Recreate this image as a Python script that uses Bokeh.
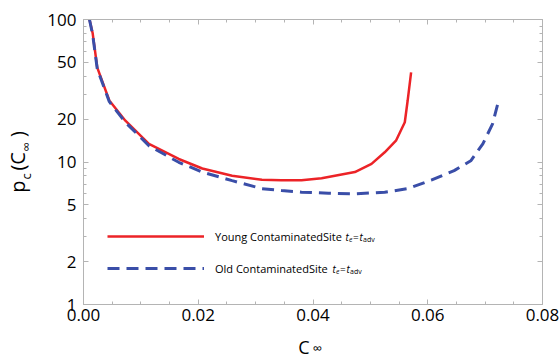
import math
from bokeh.plotting import figure
from bokeh.models import (FixedTicker, PrintfTickFormatter, LinearAxis, LogAxis,
                          Legend, LegendItem, Label, Range1d)
from bokeh.embed import file_html
from bokeh.resources import INLINE

# ---------------- data ----------------
young_x = [0.00104, 0.0016, 0.0024, 0.0045, 0.0073, 0.0114, 0.0166, 0.0207, 0.0259,
           0.0311, 0.0345, 0.038, 0.0415, 0.0473, 0.0502, 0.0525, 0.0545, 0.0560,
           0.0565, 0.0571]
young_y = [100, 80, 46, 27, 19.5, 13.4, 10.5, 9.0, 8.0, 7.5, 7.45, 7.45, 7.7, 8.5,
           9.7, 11.7, 14.2, 19.0, 27.0, 42.6]

old_x = [0.00104, 0.0016, 0.0024, 0.0045, 0.0073, 0.0114, 0.0166, 0.0207, 0.0259,
         0.0311, 0.0345, 0.038, 0.0427, 0.0473, 0.0525, 0.0565, 0.0606, 0.0646,
         0.0675, 0.0696, 0.0713, 0.0722]
old_y = [100, 78, 45, 26.5, 19.0, 13.0, 9.95, 8.5, 7.4, 6.5, 6.3, 6.14, 6.04, 5.98,
         6.14, 6.5, 7.45, 8.7, 10.2, 13.4, 18.5, 25.6]

x_ticks = [0.0, 0.02, 0.04, 0.06, 0.08]
x_minor = [0.005, 0.01, 0.015, 0.025, 0.03, 0.035, 0.045, 0.05, 0.055,
           0.065, 0.07, 0.075]
y_ticks = [1, 2, 5, 10, 20, 50, 100]
y_minor = [3, 4, 6, 7, 8, 9, 30, 40, 60, 70, 80, 90]

young_label = "Young ContaminatedSite"
old_label = "Old ContaminatedSite"

# axis titles: main glyphs and subscripts (unicode spaces keep them apart)
y_title_main = "p\u2002(C\u2002\u2005)"      # p ( C )
y_title_sub = "\u2009c\u2003\u2002\u2006\u221e"   # c  and  infinity
x_title_main = "C\u2003"
x_title_sub = "\u2002\u2006\u221e"

# ---------------- style ----------------
FONT = "Open Sans"
RED = "#ec2327"
BLUE = "#3a4ea8"
GREY = "#b4b4b4"
FRAME_LEFT, FRAME_BOTTOM = 81, 304

p = figure(width=559, height=363, x_range=Range1d(0, 0.08), y_range=Range1d(1, 100),
           y_axis_type="log", output_backend="svg", toolbar_location=None,
           min_border_left=81, min_border_right=17, min_border_top=19,
           min_border_bottom=59)
p.grid.visible = False
p.outline_line_color = GREY
p.outline_line_width = 1
p.background_fill_color = "white"
p.border_fill_color = "white"

r_young = p.line(young_x, young_y, line_color=RED, line_width=2.5)
r_old = p.line(old_x, old_y, line_color=BLUE, line_width=3, line_dash="12 7")


def style_axis(ax, show_labels=True):
    ax.axis_line_color = GREY
    ax.major_tick_line_color = GREY
    ax.minor_tick_line_color = GREY
    ax.major_tick_in = 5
    ax.major_tick_out = 0
    ax.minor_tick_in = 3
    ax.minor_tick_out = 0
    ax.major_label_text_font = FONT
    ax.major_label_text_color = "black"
    ax.axis_label_text_font = FONT
    ax.axis_label_text_font_style = "normal"
    ax.axis_label_text_color = "black"
    if show_labels:
        ax.major_label_text_font_size = "17px"
    else:
        ax.major_label_text_font_size = "1px"
        ax.major_label_text_color = None
        ax.major_label_standoff = 0


def title_axis(cls, ticker, text, size, standoff):
    ax = cls(ticker=ticker, axis_label=text)
    ax.axis_line_color = None
    ax.major_tick_line_color = None
    ax.minor_tick_line_color = None
    ax.major_tick_in = 0
    ax.major_tick_out = 0
    ax.minor_tick_in = 0
    ax.minor_tick_out = 0
    ax.major_label_text_font_size = "1px"
    ax.major_label_text_color = None
    ax.major_label_standoff = 0
    ax.axis_label_text_font = FONT
    ax.axis_label_text_font_style = "normal"
    ax.axis_label_text_color = "black"
    ax.axis_label_text_font_size = size
    ax.axis_label_standoff = standoff
    return ax


xt = FixedTicker(ticks=x_ticks, minor_ticks=x_minor)
yt = FixedTicker(ticks=y_ticks, minor_ticks=y_minor)

xa = p.xaxis[0]
xa.ticker = xt
xa.formatter = PrintfTickFormatter(format="%.2f")
style_axis(xa)
xa.major_label_standoff = 4
xa.axis_label = x_title_sub
xa.axis_label_text_font_size = "13px"
xa.axis_label_standoff = 15

ya = p.yaxis[0]
ya.ticker = yt
ya.formatter = PrintfTickFormatter(format="%d")
style_axis(ya)
ya.major_label_standoff = 7
ya.axis_label = y_title_sub
ya.axis_label_text_font_size = "13px"
ya.axis_label_standoff = 9

top = LinearAxis(ticker=xt, formatter=PrintfTickFormatter(format="%.2f"))
style_axis(top, False)
p.add_layout(top, "above")
right = LogAxis(ticker=yt, formatter=PrintfTickFormatter(format="%d"))
style_axis(right, False)
p.add_layout(right, "right")

p.add_layout(title_axis(LinearAxis, xt, x_title_main, "18px", -25), "below")
p.add_layout(title_axis(LogAxis, yt, y_title_main, "20px", -16), "left")

# ---------------- legend ----------------
legend = Legend(items=[LegendItem(label=young_label, renderers=[r_young]),
                       LegendItem(label=old_label, renderers=[r_old])],
                location=(24, 26), padding=0, margin=0, spacing=12,
                glyph_width=97, glyph_height=20, label_height=20,
                label_standoff=11, border_line_color=None,
                background_fill_alpha=0, label_text_font=FONT,
                label_text_font_size="11px", label_text_color="black")
p.add_layout(legend)


def lab(text, px, py, size, style="normal"):
    p.add_layout(Label(x=px - FRAME_LEFT, y=FRAME_BOTTOM - py,
                       x_units="screen", y_units="screen", text=text,
                       text_font=FONT, text_font_size=size, text_font_style=style,
                       text_color="black", text_baseline="middle",
                       text_align="left"))


# t_e = t_adv pieces after the legend labels
for tx, ty in [(343, 236), (330, 268)]:
    lab("t", tx, ty, "10px", "italic")
    lab("e", tx + 3.5, ty + 3, "7px", "italic")
    lab("=", tx + 7.5, ty, "10px")
    lab("t", tx + 14, ty, "10px", "italic")
    lab("adv", tx + 17.5, ty + 3, "7px")

open("out.html", "w").write(file_html(p, INLINE))
